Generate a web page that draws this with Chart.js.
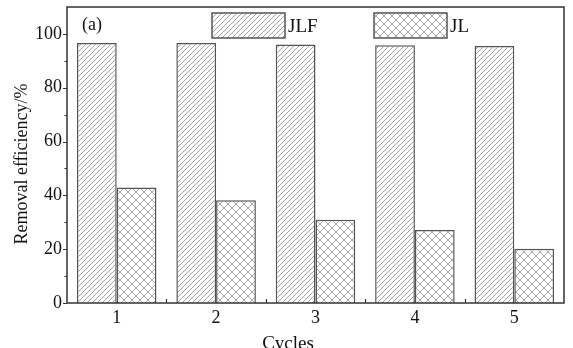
<!DOCTYPE html>
<html>
<head>
<meta charset="utf-8">
<script src="https://cdn.jsdelivr.net/npm/chart.js@4/dist/chart.umd.min.js"></script>
<style>
html,body{margin:0;padding:0;background:#fff;}
canvas{display:block;}
</style>
</head>
<body>
<canvas id="c" width="573" height="348"></canvas>
<script>
const categories = ['1', '2', '3', '4', '5'];
const seriesNames = ['JLF', 'JL'];
const jlfValues = [96.6, 96.6, 96.1, 95.8, 95.5];
const jlValues = [42.9, 38.2, 30.9, 27.1, 20.2];
const yTickValues = [0, 20, 40, 60, 80, 100];
const xTitle = 'Cycles';
const yTitle = 'Removal efficiency/%';
const panelLabel = '(a)';

const FONT = '"Liberation Serif", "Times New Roman", serif';

function makeDiag() {
  const s = 5;
  const c = document.createElement('canvas');
  c.width = s; c.height = s;
  const g = c.getContext('2d');
  g.fillStyle = '#fff'; g.fillRect(0, 0, s, s);
  g.strokeStyle = '#999'; g.lineWidth = 0.9;
  g.beginPath();
  g.moveTo(-1, s + 1); g.lineTo(s + 1, -1);
  g.moveTo(-1, 1); g.lineTo(1, -1);
  g.moveTo(s - 1, s + 1); g.lineTo(s + 1, s - 1);
  g.stroke();
  return document.getElementById('c').getContext('2d').createPattern(c, 'repeat');
}
function makeCross() {
  const s = 8;
  const c = document.createElement('canvas');
  c.width = s; c.height = s;
  const g = c.getContext('2d');
  g.fillStyle = '#fff'; g.fillRect(0, 0, s, s);
  g.strokeStyle = '#9d9d9d'; g.lineWidth = 0.9;
  g.beginPath();
  g.moveTo(-1, s + 1); g.lineTo(s + 1, -1);
  g.moveTo(-1, -1); g.lineTo(s + 1, s + 1);
  g.stroke();
  return document.getElementById('c').getContext('2d').createPattern(c, 'repeat');
}
const diagPat = makeDiag();
const crossPat = makeCross();
const patterns = [diagPat, crossPat];

const decor = {
  id: 'decor',
  afterDraw(chart) {
    const ctx = chart.ctx;
    const a = chart.chartArea;
    const xs = chart.scales.x, ys = chart.scales.y;
    ctx.save();
    ctx.strokeStyle = '#333';
    ctx.lineWidth = 1.5;
    ctx.strokeRect(a.left, a.top, a.right - a.left, a.bottom - a.top);
    ctx.lineWidth = 1.2;
    ctx.beginPath();
    for (let v = 0; v <= 100; v += 10) {
      const y = Math.round(ys.getPixelForValue(v)) + 0.5;
      const len = (v % 20 === 0) ? 4 : 2.5;
      ctx.moveTo(a.left - len, y); ctx.lineTo(a.left, y);
    }
    for (let i = 0; i < categories.length - 1; i++) {
      const x = Math.round((xs.getPixelForValue(i) + xs.getPixelForValue(i + 1)) / 2) + 0.5;
      ctx.moveTo(x, a.bottom); ctx.lineTo(x, a.bottom - 4);
    }
    ctx.stroke();
    ctx.fillStyle = '#111';
    ctx.font = '18px ' + FONT;
    ctx.textAlign = 'left';
    ctx.textBaseline = 'alphabetic';
    ctx.fillText(panelLabel, 82, 30);
    const legendBoxes = [[212, 13], [374, 13]];
    ctx.font = '19px ' + FONT;
    seriesNames.forEach((n, i) => {
      const [bx, by] = legendBoxes[i];
      ctx.fillStyle = patterns[i];
      ctx.fillRect(bx, by, 73, 25);
      ctx.strokeStyle = '#555';
      ctx.lineWidth = 1.5;
      ctx.strokeRect(bx, by, 73, 25);
      ctx.fillStyle = '#111';
      ctx.fillText(n, bx + 76, 32);
    });
    ctx.font = '19px ' + FONT;
    ctx.textAlign = 'center';
    ctx.fillText(xTitle, 288, 349);
    ctx.save();
    ctx.translate(27, 164);
    ctx.rotate(-Math.PI / 2);
    ctx.font = '18px ' + FONT;
    ctx.fillText(yTitle, 0, 0);
    ctx.restore();
    ctx.restore();
  }
};

new Chart(document.getElementById('c'), {
  type: 'bar',
  data: {
    labels: categories,
    datasets: [
      { label: seriesNames[0], data: jlfValues, backgroundColor: diagPat, borderColor: '#555', borderWidth: 1.5, barPercentage: 1, categoryPercentage: 0.8 },
      { label: seriesNames[1], data: jlValues, backgroundColor: crossPat, borderColor: '#555', borderWidth: 1.5, barPercentage: 1, categoryPercentage: 0.8 }
    ]
  },
  options: {
    responsive: false,
    animation: false,
    devicePixelRatio: 1,
    layout: { padding: { top: 7, right: 9, left: 0, bottom: 0 } },
    plugins: { legend: { display: false }, tooltip: { enabled: false } },
    scales: {
      x: {
        grid: { display: false, drawTicks: false },
        border: { display: false },
        ticks: { font: { family: FONT, size: 18 }, color: '#111', padding: 4 },
        afterFit(s) { s.height = 45; s.paddingLeft = 0; s.paddingRight = 0; }
      },
      y: {
        min: 0, max: 110,
        grid: { display: false, drawTicks: false },
        border: { display: false },
        afterBuildTicks(s) { s.ticks = yTickValues.map(v => ({ value: v })); },
        ticks: { font: { family: FONT, size: 18 }, color: '#111', padding: 5 },
        afterFit(s) { s.width = 67; s.paddingTop = 0; s.paddingBottom = 0; }
      }
    }
  },
  plugins: [decor]
});
</script>
</body>
</html>
